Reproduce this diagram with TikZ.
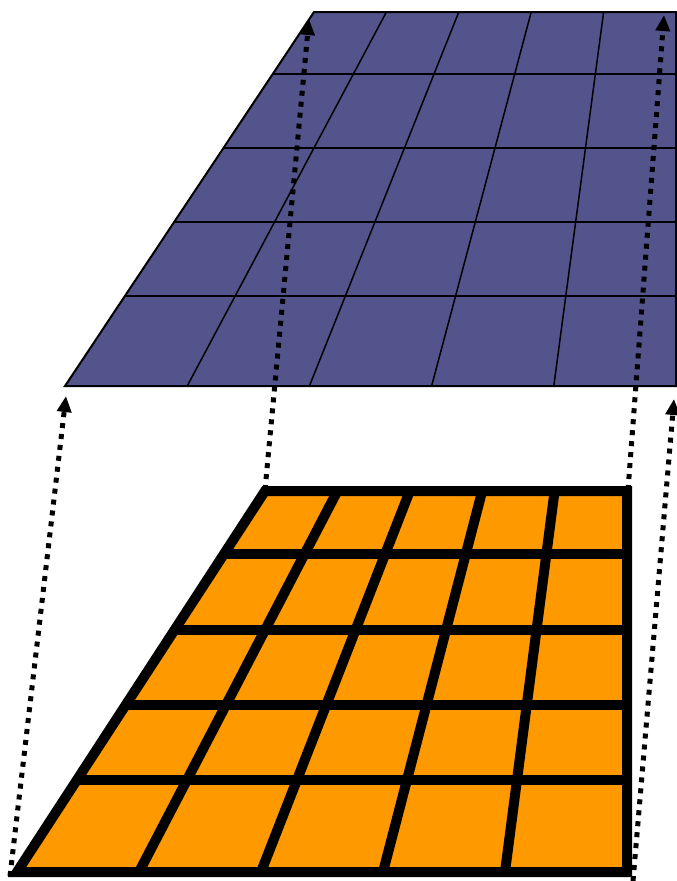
\documentclass[tikz,border=0pt]{standalone}
\usetikzlibrary{calc,arrows.meta}
\definecolor{planeblue}{RGB}{84,84,140}
\definecolor{planeorange}{RGB}{255,153,0}
\tikzset{
  thingrid/.style={black, line width=1.5pt},
  thickgrid/.style={black, line width=10pt, line join=miter},
  dotarrow/.style={black, line width=5pt, dash pattern=on 5pt off 6pt, -{Triangle[length=16pt,width=14pt]}}
}
\begin{document}
\begin{tikzpicture}[x=1pt,y=-1pt]
\useasboundingbox (0,0) rectangle (677,881);
% upper (blue) plane
\coordinate (uTL) at (314,12);
\coordinate (uTR) at (676,12);
\coordinate (uBR) at (676,386);
\coordinate (uBL) at (65,386);
\fill[planeblue] (uTL) -- (uTR) -- (uBR) -- (uBL) -- cycle;
\foreach \f in {0.166,0.364,0.561,0.759}
  \draw[thingrid] ($(uTL)!\f!(uBL)$) -- ($(uTR)!\f!(uBR)$);
\foreach \g in {0.2,0.4,0.6,0.8}
  \draw[thingrid] ($(uTL)!\g!(uTR)$) -- ($(uBL)!\g!(uBR)$);
\draw[black, line width=2pt] (uTL) -- (uTR) -- (uBR) -- (uBL) -- cycle;
% lower (orange) plane
\coordinate (lTL) at (265,491);
\coordinate (lTR) at (627,491);
\coordinate (lBR) at (627,872);
\coordinate (lBL) at (17,872);
\fill[planeorange] (lTL) -- (lTR) -- (lBR) -- (lBL) -- cycle;
\foreach \f in {0.166,0.364,0.561,0.759}
  \draw[thickgrid] ($(lTL)!\f!(lBL)$) -- ($(lTR)!\f!(lBR)$);
\foreach \g in {0.2,0.4,0.6,0.8}
  \draw[thickgrid] ($(lTL)!\g!(lTR)$) -- ($(lBL)!\g!(lBR)$);
\draw[thickgrid] (lTL) -- (lTR) -- (lBR) -- (lBL) -- cycle;
% arrow ends
\coordinate (aTail) at (265,490);
\coordinate (aTip) at (309,19);
\coordinate (bTail) at (628,490);
\coordinate (bTip) at (664,15);
\coordinate (cTail) at (10,876);
\coordinate (cTip) at (66,396);
\coordinate (dTail) at (633,881);
\coordinate (dTip) at (674,399);
\draw[dotarrow] (aTail) -- (aTip);
\draw[dotarrow] (bTail) -- (bTip);
\draw[dotarrow] (cTail) -- (cTip);
\draw[dotarrow] (dTail) -- (dTip);
\end{tikzpicture}
\end{document}
